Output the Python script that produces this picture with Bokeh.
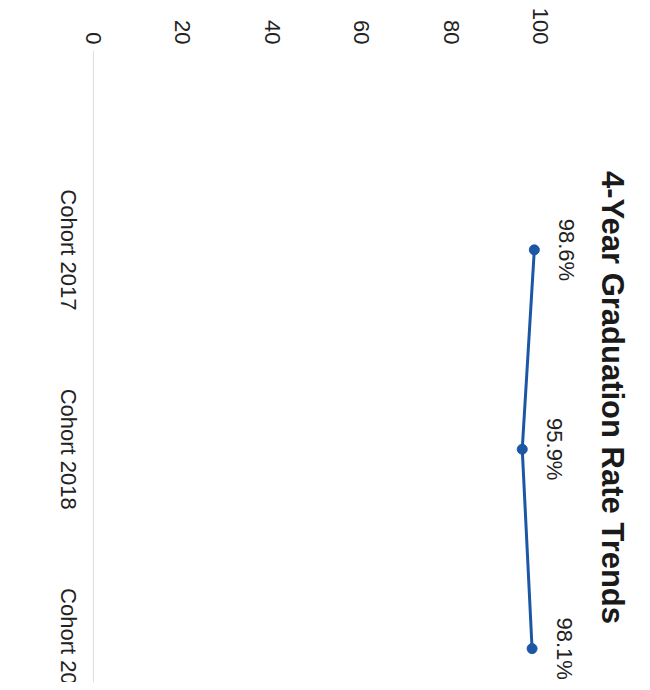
import math
from bokeh.plotting import figure
from bokeh.models import Range1d, FixedTicker, ColumnDataSource, LabelSet, Label
from bokeh.embed import file_html
from bokeh.resources import INLINE
from bokeh.core.properties import value

cohorts = ["Cohort 2017", "Cohort 2018", "Cohort 2019"]
rates = [98.6, 95.9, 98.1]
rate_labels = ["98.6%", "95.9%", "98.1%"]
value_ticks = [0, 20, 40, 60, 80, 100]
title_text = "4-Year Graduation Rate Trends"

FONT = "Liberation Sans"
LINE_COLOR = "#1c57a5"
TEXT_COLOR = "#222222"

pos = list(range(len(cohorts)))
src = ColumnDataSource(dict(pos=pos, rate=rates, label=rate_labels, cohort=cohorts))

p = figure(width=642, height=682, output_backend="svg", toolbar_location=None,
           x_range=Range1d(-11.86, 122.8), y_range=Range1d(2.17, -1.0),
           x_axis_location="above",
           min_border_left=40, min_border_top=50, min_border_right=0,
           min_border_bottom=0)
p.outline_line_color = None
p.background_fill_color = "white"
p.border_fill_color = "white"

xa = p.xaxis[0]
xa.ticker = FixedTicker(ticks=value_ticks)
xa.major_label_orientation = -math.pi / 2
xa.axis_line_color = None
xa.major_tick_line_color = None
xa.minor_tick_line_color = None
xa.major_label_text_font = FONT
xa.major_label_text_font_size = "22px"
xa.major_label_text_color = TEXT_COLOR
xa.major_label_standoff = 0

ya = p.yaxis[0]
ya.ticker = FixedTicker(ticks=pos)
ya.visible = False

p.xgrid.ticker = FixedTicker(ticks=[0])
p.xgrid.grid_line_color = "#dedede"
p.ygrid.visible = False

# chart title, rotated with the page
title = Label(x=572, y=285, x_units="screen", y_units="screen", text=title_text,
              angle=-math.pi / 2, text_align="center", text_baseline="middle",
              text_font=FONT, text_font_size="31px", text_font_style="bold",
              text_color="#1a1a1a")
p.add_layout(title)

# category labels centred on each cohort position
cat_labels = LabelSet(x=40, x_units="screen", y="pos", text="cohort", source=src,
                      angle=-math.pi / 2, text_align="center", text_baseline="top",
                      text_font=value(FONT), text_font_size="22px", text_color=TEXT_COLOR)
p.add_layout(cat_labels)

p.line("rate", "pos", source=src, line_color=LINE_COLOR, line_width=3)
p.scatter("rate", "pos", source=src, size=10, fill_color=LINE_COLOR, line_color=LINE_COLOR)
p.text(x="rate", y="pos", text="label", source=src, angle=-math.pi / 2,
       text_align="center", text_baseline="bottom", x_offset=20,
       text_font=value(FONT), text_font_size="22px", text_color=TEXT_COLOR)

open("out.html", "w").write(file_html(p, INLINE))
